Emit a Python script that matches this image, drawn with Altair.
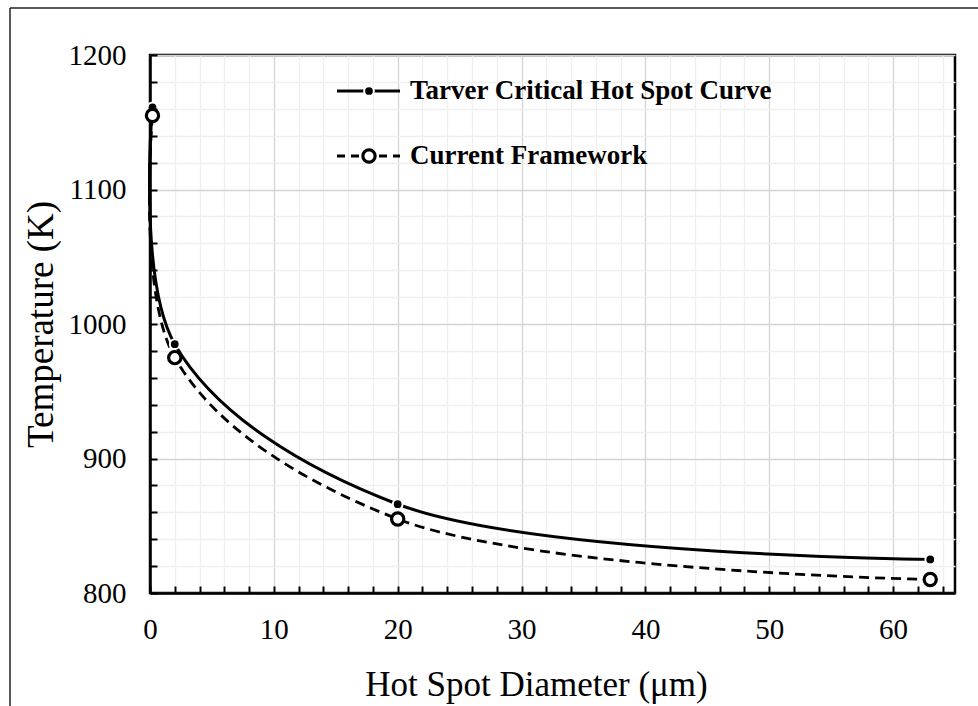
import altair as alt
import pandas as pd

# ---- data ----
diameter = [0.2, 2, 20, 63]
tarver = [1161, 985, 866, 825]
current = [1155, 975, 855, 810]
series_names = ["Tarver Critical Hot Spot Curve", "Current Framework"]

x_major = [0, 10, 20, 30, 40, 50, 60]
x_minor = [2, 4, 6, 8, 12, 14, 16, 18, 22, 24, 26, 28, 32, 34, 36, 38,
           42, 44, 46, 48, 52, 54, 56, 58, 62, 64]
x_ticks = [0, 2, 4, 6, 8, 10, 12, 14, 16, 18, 20, 22, 24, 26, 28, 30, 32, 34,
           36, 38, 40, 42, 44, 46, 48, 50, 52, 54, 56, 58, 60, 62, 64]
y_major = [800, 900, 1000, 1100, 1200]
y_minor = [820, 840, 860, 880, 920, 940, 960, 980, 1020, 1040, 1060, 1080,
           1120, 1140, 1160, 1180]
y_ticks = [800, 820, 840, 860, 880, 900, 920, 940, 960, 980, 1000, 1020, 1040,
           1060, 1080, 1100, 1120, 1140, 1160, 1180, 1200]

df_t = pd.DataFrame({"d": diameter, "T": tarver, "series": series_names[0]})
df_c = pd.DataFrame({"d": diameter, "T": current, "series": series_names[1]})
df_leg = pd.DataFrame({"series": series_names})

FONT = "Times New Roman, Liberation Serif, serif"
W, H = 805, 538

xs = alt.Scale(domain=[0, 65], nice=False, zero=False)
ys = alt.Scale(domain=[800, 1200], nice=False, zero=False)

major_x = alt.Axis(orient="bottom", values=x_major, format="d", grid=True,
                   gridColor="#d4d4d4", gridWidth=1.3, ticks=False, tickSize=0,
                   domain=True, domainColor="black", domainWidth=2.5,
                   labelFont=FONT, labelFontSize=29, labelColor="black",
                   labelPadding=22, labelFlush=False,
                   title="Hot Spot Diameter (\u03bcm)", titleFont=FONT,
                   titleFontSize=35, titleFontWeight="normal",
                   titleColor="black", titlePadding=23, titleX=386)
major_y = alt.Axis(orient="left", values=y_major, format="d", grid=True,
                   gridColor="#d4d4d4", gridWidth=1.3, ticks=False, tickSize=0,
                   domain=True, domainColor="black", domainWidth=2.5,
                   labelFont=FONT, labelFontSize=29, labelColor="black",
                   labelPadding=24, labelFlush=False, title="Temperature (K)",
                   titleFont=FONT, titleFontSize=37, titleFontWeight="normal",
                   titleColor="black", titlePadding=8)
minor_x = alt.Axis(orient="bottom", values=x_minor, grid=True, gridColor="#efefef",
                   gridWidth=1.3, ticks=False, labels=False, domain=False, title=None)
minor_y = alt.Axis(orient="left", values=y_minor, grid=True, gridColor="#efefef",
                   gridWidth=1.3, ticks=False, labels=False, domain=False, title=None)
tick_x = alt.Axis(orient="bottom", values=x_ticks, grid=False, ticks=True,
                  tickSize=7, tickWidth=2, tickColor="black", offset=-7,
                  labels=False, domain=False, title=None, zindex=1)
tick_y = alt.Axis(orient="left", values=y_ticks, grid=False, ticks=True,
                  tickSize=7, tickWidth=2, tickColor="black", offset=-7,
                  labels=False, domain=False, title=None, zindex=1)

line_t = alt.Chart(df_t).mark_line(color="black", strokeWidth=3,
                                   interpolate="catmull-rom").encode(
    x=alt.X("d:Q", scale=xs, axis=major_x),
    y=alt.Y("T:Q", scale=ys, axis=major_y),
)
line_c = alt.Chart(df_c).mark_line(color="black", strokeWidth=2.8,
                                   strokeDash=[10, 6],
                                   interpolate="catmull-rom").encode(
    x=alt.X("d:Q", scale=xs, axis=minor_x),
    y=alt.Y("T:Q", scale=ys, axis=minor_y),
)
pts_t = alt.Chart(df_t).mark_point(shape="circle", filled=True, fill="black",
                                   stroke="white", strokeWidth=2, size=95,
                                   opacity=1).encode(
    x=alt.X("d:Q", scale=xs, axis=tick_x),
    y=alt.Y("T:Q", scale=ys, axis=tick_y),
)
pts_c = alt.Chart(df_c).mark_point(shape="circle", filled=False, fill="white",
                                   fillOpacity=1, stroke="black", strokeWidth=3.2,
                                   size=150, opacity=1).encode(
    x=alt.X("d:Q", scale=xs, axis=None),
    y=alt.Y("T:Q", scale=ys, axis=None),
)

# ---- legend drawn inside the plot ----
leg_t = df_leg[df_leg.series == series_names[0]]
leg_c = df_leg[df_leg.series == series_names[1]]
LX1, LX2, LXM, LXT = 187, 250, 219, 260
LY1, LY2 = 36, 101

leg = [
    alt.Chart(leg_t).mark_rule(color="black", strokeWidth=3).encode(
        x=alt.value(LX1), x2=alt.value(LX2), y=alt.value(LY1)),
    alt.Chart(leg_t).mark_point(shape="circle", filled=True, fill="black",
                                stroke="white", strokeWidth=2, size=95,
                                opacity=1).encode(
        x=alt.value(LXM), y=alt.value(LY1)),
    alt.Chart(leg_t).mark_text(font=FONT, fontSize=27, fontWeight="bold",
                               align="left", baseline="middle",
                               color="black").encode(
        x=alt.value(LXT), y=alt.value(LY1), text="series:N"),
    alt.Chart(leg_c).mark_rule(color="black", strokeWidth=2.8,
                               strokeDash=[8, 6]).encode(
        x=alt.value(LX1), x2=alt.value(LX2), y=alt.value(LY2)),
    alt.Chart(leg_c).mark_point(shape="circle", filled=False, fill="white",
                                fillOpacity=1, stroke="black", strokeWidth=3.2,
                                size=150, opacity=1).encode(
        x=alt.value(LXM), y=alt.value(LY2)),
    alt.Chart(leg_c).mark_text(font=FONT, fontSize=27, fontWeight="bold",
                               align="left", baseline="middle",
                               color="black").encode(
        x=alt.value(LXT), y=alt.value(LY2), text="series:N"),
]

# outer figure frame (left and top edges visible)
frame = [
    alt.Chart(leg_t).mark_rule(color="#222222", strokeWidth=1.5).encode(
        x=alt.value(-140), y=alt.value(-47), y2=alt.value(700)),
    alt.Chart(leg_t).mark_rule(color="#222222", strokeWidth=1.5).encode(
        x=alt.value(-140), x2=alt.value(900), y=alt.value(-47)),
]

chart = alt.layer(line_t, line_c, pts_t, pts_c, *leg, *frame).resolve_axis(
    x="independent", y="independent"
).properties(
    width=W, height=H,
    autosize=alt.AutoSizeParams(type="none"),
    padding={"left": 150, "top": 55, "right": 23, "bottom": 113},
    background="white",
).configure_view(stroke="black", strokeWidth=2.5)

chart.save("out.html", embed_options={"renderer": "svg", "actions": False})
